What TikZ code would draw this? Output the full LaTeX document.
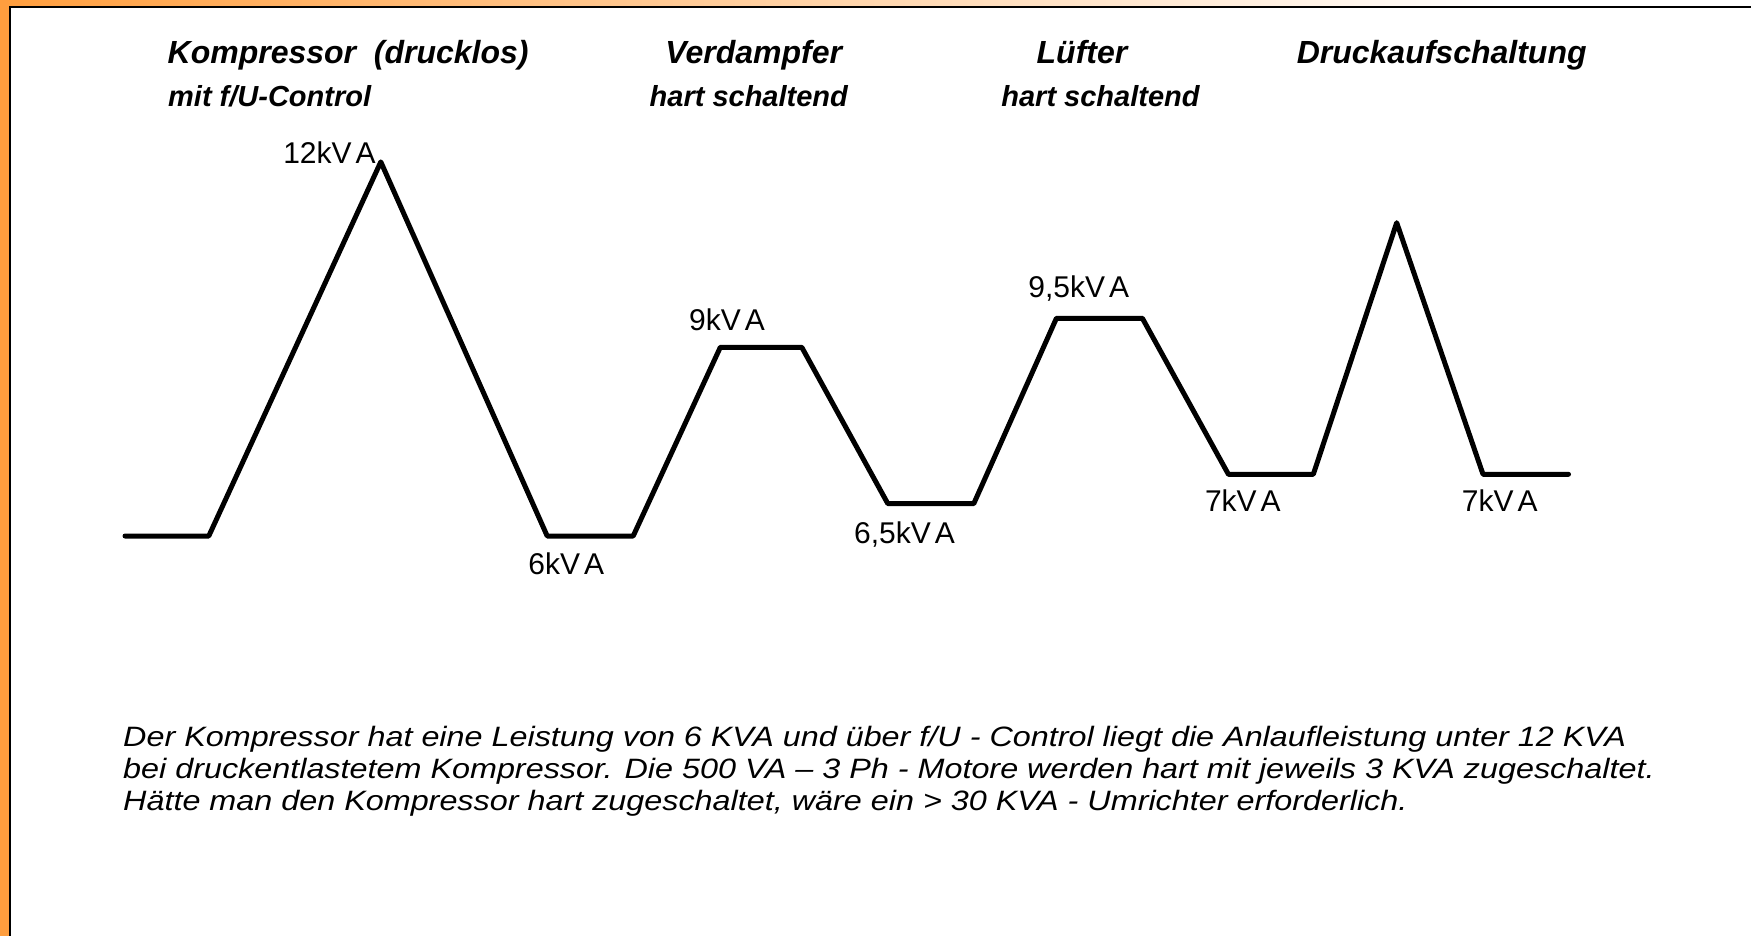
\documentclass[tikz,border=0pt]{standalone}
\usepackage{fontspec}
\setmainfont{Liberation Sans}
\definecolor{frameorange}{RGB}{255,158,62}
\newcommand{\bodystretch}[1]{\scalebox{1.155}[1]{#1}}
\begin{document}
\begin{tikzpicture}[x=1pt,y=-1pt,
  hdr/.style={font=\fontsize{32}{38}\selectfont\bfseries\itshape, inner sep=0pt},
  subhdr/.style={font=\fontsize{29}{34}\selectfont\bfseries\itshape, inner sep=0pt},
  val/.style={font=\fontsize{30}{36}\selectfont, inner sep=0pt, anchor=base},
  bodytext/.style={font=\fontsize{28}{32}\selectfont\itshape, inner sep=0pt, anchor=base west},
  curve/.style={line width=5pt, line cap=round, line join=round},
  framerule/.style={line width=2pt, black}]
\useasboundingbox (0,0) rectangle (1751,936);
% frame
\fill[white] (0,0) rectangle (1751,936);
\fill[frameorange] (0,0) rectangle (10,936);
\shade[left color=frameorange, right color=white] (0,0) rectangle (1500,7);
\fill[white] (1500,0) rectangle (1751,7);
\coordinate (ftl) at (10.3,7);
\coordinate (ftr) at (1751,7);
\coordinate (fbl) at (10.3,936);
\draw[framerule] (fbl) -- (ftl) -- (ftr);
% headers
\node[hdr, anchor=base west] (h1) at (167.5,64) {Kompressor\ \ (drucklos)};
\node[subhdr, anchor=base west] (h1b) at (168,107) {mit f/U-Control};
\node[hdr, anchor=base] (h2) at (753.8,64) {Verdampfer};
\node[subhdr, anchor=base] (h2b) at (748.8,107) {hart schaltend};
\node[hdr, anchor=base] (h3) at (1082,64) {Lüfter};
\node[subhdr, anchor=base] (h3b) at (1100.5,107) {hart schaltend};
\node[hdr, anchor=base] (h4) at (1441.7,64) {Druckaufschaltung};
% curve points
\coordinate (p1) at (125,536);
\coordinate (p2) at (208.8,536);
\coordinate (p3) at (380.8,161.9);
\coordinate (p4) at (547.2,536);
\coordinate (p5) at (633.2,536);
\coordinate (p6) at (720.3,347.3);
\coordinate (p7) at (801.8,347.3);
\coordinate (p8) at (887.8,503.6);
\coordinate (p9) at (973.8,503.6);
\coordinate (p10) at (1056.4,318.3);
\coordinate (p11) at (1142.4,318.3);
\coordinate (p12) at (1228.4,474.3);
\coordinate (p13) at (1313.3,474.3);
\coordinate (p14) at (1396.7,222.7);
\coordinate (p15) at (1483,474.3);
\coordinate (p16) at (1568.5,474.3);
\draw[curve] (p1) -- (p2) -- (p3) -- (p4) -- (p5) -- (p6) -- (p7) -- (p8) -- (p9) -- (p10) -- (p11) -- (p12) -- (p13) -- (p14) -- (p15) -- (p16);
% value labels
\node[val] (v12) at (329.5,164) {12kV\kern4pt A};
\node[val] (v6) at (566.2,574.6) {6kV\kern4pt A};
\node[val] (v9) at (727,330) {9kV\kern4pt A};
\node[val] (v65) at (904.5,543.4) {6,5kV\kern4pt A};
\node[val] (v95) at (1078.7,297.7) {9,5kV\kern4pt A};
\node[val] (v7a) at (1242.9,511) {7kV\kern4pt A};
\node[val] (v7b) at (1499.8,511) {7kV\kern4pt A};
% body text
\node[bodytext] (b1) at (123,746) {\bodystretch{Der Kompressor hat eine Leistung von 6 KVA und über f/U - Control liegt die Anlaufleistung unter 12 KVA}};
\node[bodytext] (b2) at (123,778) {\bodystretch{bei druckentlastetem Kompressor. Die 500 VA – 3 Ph - Motore werden hart mit jeweils 3 KVA zugeschaltet.}};
\node[bodytext] (b3) at (123,810) {\bodystretch{Hätte man den Kompressor hart zugeschaltet, wäre ein > 30 KVA - Umrichter erforderlich.}};
\end{tikzpicture}
\end{document}
